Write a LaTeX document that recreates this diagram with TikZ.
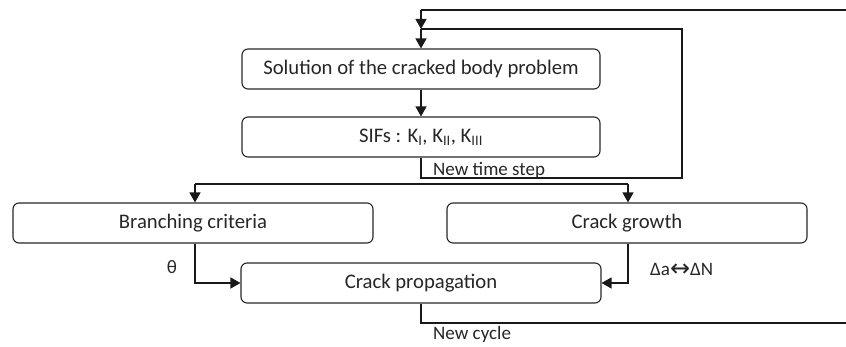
\documentclass[tikz,border=0pt]{standalone}
\usepackage{fontspec}
\setmainfont{Carlito}
\newfontfamily\dvfont{DejaVu Sans}
\usetikzlibrary{arrows.meta}
\tikzset{
  flowbox/.style={draw=black!85, line width=1.1pt, rounded corners=6pt, minimum height=40pt, inner sep=0pt,
    font=\fontsize{20.7}{24}\selectfont, text=black!85},
  conn/.style={draw=black!90, line width=1.3pt},
  arr/.style={conn, -{Triangle[width=11pt,length=10pt]}},
  lbl/.style={font=\fontsize{19}{22}\selectfont, text=black!85, inner sep=0pt}
}
\begin{document}
\begin{tikzpicture}[x=1pt,y=-1pt]
\useasboundingbox (0,0) rectangle (846,347);
\node[flowbox, minimum width=358pt] (sol) at (421,69) {Solution of the cracked body problem};
\node[flowbox, minimum width=358pt] (sif) at (421,137) {SIFs : K\textsubscript{I}, K\textsubscript{II}, K\textsubscript{III}};
\node[flowbox, minimum width=360pt] (br) at (193,223) {Branching criteria};
\node[flowbox, minimum width=360pt] (cg) at (627,223) {Crack growth};
\node[flowbox, minimum width=360pt] (cp) at (421,283) {Crack propagation};

\coordinate (t1) at (421,10);
\coordinate (t2) at (421,29);
\coordinate (r1) at (682,29);
\coordinate (r2) at (682,178);
\coordinate (b1) at (421,323);
\coordinate (b2) at (848,323);
\coordinate (b3) at (848,10);
\coordinate (s1) at (195,184);
\coordinate (s2) at (628,184);

% sol -> sif
\draw[arr] (sol) -- (sif);
% new time step loop
\draw[conn] (sif.south) |- (r2) -- (r1) -- (t2);
\draw[arr] (t2) -- (sol.north);
% new cycle loop
\draw[conn] (cp.south) -- (b1) -- (b2) -- (b3) -- (t1);
\draw[arr] (t1) -- (t2);
% split
\draw[conn] (s1) -- (s2);
\draw[arr] (s1) -- (s1 |- br.north);
\draw[arr] (s2) -- (s2 |- cg.north);
% to propagation
\draw[arr] (s1 |- br.south) |- (cp.west);
\draw[arr] (s2 |- cg.south) |- (cp.east);

\node[lbl, anchor=base west] (nts) at (433,176) {New time step};
\node[lbl, anchor=base west] (nc) at (433,340) {New cycle};
\node[lbl] (th) at (172,267) {θ};
\node[lbl, anchor=west] (da) at (650,270) {Δa{\dvfont\fontsize{24}{24}\selectfont\raisebox{-0.5pt}{↔}}ΔN};
\end{tikzpicture}
\end{document}
